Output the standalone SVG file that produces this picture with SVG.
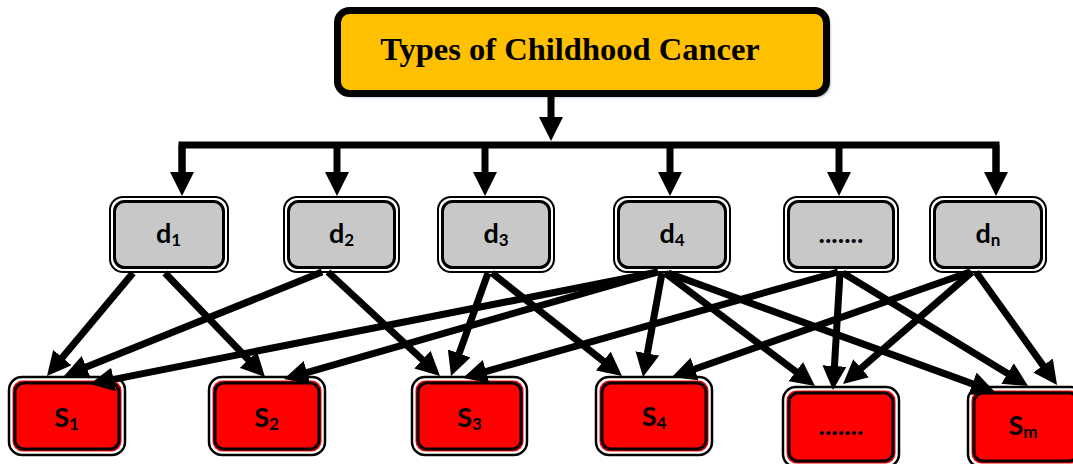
<svg xmlns="http://www.w3.org/2000/svg" width="1073" height="464" viewBox="0 0 1073 464">
<style>
.lbl{font-family:Lato,"Open Sans","Liberation Sans",sans-serif;font-weight:bold;fill:#000;text-anchor:middle}
.main{font-size:27px}
.sub{font-size:17px}
.title{font-family:"Liberation Serif","Times New Roman",serif;font-weight:bold;font-size:32.5px;fill:#000;text-anchor:middle}
.dout{fill:#fff;stroke:#000;stroke-width:2}
.din{fill:#c8c8c8;stroke:#000;stroke-width:3}
.sout{fill:#fff;stroke:#000;stroke-width:2.5}
.smid{fill:#ff0000}
.sin{fill:#ff0000;stroke:#000;stroke-width:3}
.edge{stroke:#000;stroke-width:7;fill:none;marker-end:url(#ah)}
.bar{stroke:#000;stroke-width:7;fill:none}
</style>
<defs>
<marker id="ah" markerUnits="userSpaceOnUse" markerWidth="24" markerHeight="24" refX="14" refY="12" orient="auto" viewBox="0 0 24 24">
<path d="M0,0 L24,12 L0,24 z" fill="#000"/>
</marker>
<filter id="sh" x="-5%" y="-20%" width="110%" height="140%">
<feGaussianBlur stdDeviation="1.5"/>
</filter>
</defs>
<rect width="1073" height="464" fill="#fff"/>

<g id="title">
<rect x="341" y="14" width="489" height="83" rx="13" fill="#8fa3bf" filter="url(#sh)"/>
<rect x="337.5" y="10.5" width="489" height="83" rx="12" fill="#ffc000" stroke="#000" stroke-width="7"/>
<text class="title" x="570" y="60">Types of Childhood Cancer</text>
</g>

<g id="node-d1">
<rect class="dout" x="110" y="197" width="118" height="75" rx="13"/>
<rect class="din" x="114.5" y="201.5" width="109" height="66" rx="10"/>
<text class="lbl" x="168.5" y="243"><tspan class="main">d</tspan><tspan class="sub" dy="3">1</tspan></text>
</g>
<g id="node-d2">
<rect class="dout" x="284" y="197" width="115" height="75" rx="13"/>
<rect class="din" x="288.5" y="201.5" width="106" height="66" rx="10"/>
<text class="lbl" x="341.5" y="243"><tspan class="main">d</tspan><tspan class="sub" dy="3">2</tspan></text>
</g>
<g id="node-d3">
<rect class="dout" x="438" y="197" width="116" height="75" rx="13"/>
<rect class="din" x="442.5" y="201.5" width="107" height="66" rx="10"/>
<text class="lbl" x="496" y="243"><tspan class="main">d</tspan><tspan class="sub" dy="3">3</tspan></text>
</g>
<g id="node-d4">
<rect class="dout" x="614" y="197" width="116" height="75" rx="13"/>
<rect class="din" x="618.5" y="201.5" width="107" height="66" rx="10"/>
<text class="lbl" x="672" y="243"><tspan class="main">d</tspan><tspan class="sub" dy="3">4</tspan></text>
</g>
<g id="node-ddots">
<rect class="dout" x="784" y="197" width="114" height="75" rx="13"/>
<rect class="din" x="788.5" y="201.5" width="105" height="66" rx="10"/>
<text class="lbl main" x="841" y="243">.......</text>
</g>
<g id="node-dn">
<rect class="dout" x="930" y="197" width="116" height="75" rx="13"/>
<rect class="din" x="934.5" y="201.5" width="107" height="66" rx="10"/>
<text class="lbl" x="988" y="243"><tspan class="main">d</tspan><tspan class="sub" dy="3">n</tspan></text>
</g>

<g id="node-s1">
<rect class="sout" x="9" y="377" width="116" height="78" rx="13"/>
<rect class="smid" x="12.5" y="380.5" width="109" height="71" rx="10"/>
<rect class="sin" x="15" y="383" width="104" height="66" rx="9"/>
<text class="lbl" x="66.5" y="427"><tspan class="main">S</tspan><tspan class="sub" dy="3">1</tspan></text>
</g>
<g id="node-s2">
<rect class="sout" x="209" y="377" width="116" height="78" rx="13"/>
<rect class="smid" x="212.5" y="380.5" width="109" height="71" rx="10"/>
<rect class="sin" x="215" y="383" width="104" height="66" rx="9"/>
<text class="lbl" x="266.5" y="427"><tspan class="main">S</tspan><tspan class="sub" dy="3">2</tspan></text>
</g>
<g id="node-s3">
<rect class="sout" x="412" y="377" width="115" height="78" rx="13"/>
<rect class="smid" x="415.5" y="380.5" width="108" height="71" rx="10"/>
<rect class="sin" x="418" y="383" width="103" height="66" rx="9"/>
<text class="lbl" x="469.5" y="427"><tspan class="main">S</tspan><tspan class="sub" dy="3">3</tspan></text>
</g>
<g id="node-s4">
<rect class="sout" x="596" y="377" width="116" height="78" rx="13"/>
<rect class="smid" x="599.5" y="380.5" width="109" height="71" rx="10"/>
<rect class="sin" x="602" y="383" width="104" height="66" rx="9"/>
<text class="lbl" x="654" y="426"><tspan class="main">S</tspan><tspan class="sub" dy="3">4</tspan></text>
</g>
<g id="node-sdots">
<rect class="sout" x="783" y="387" width="116" height="80" rx="13"/>
<rect class="smid" x="786.5" y="390.5" width="109" height="73" rx="10"/>
<rect class="sin" x="789" y="393" width="104" height="68" rx="9"/>
<text class="lbl main" x="841" y="435">.......</text>
</g>
<g id="node-sm">
<rect class="sout" x="968" y="387" width="116" height="80" rx="13"/>
<rect class="smid" x="971.5" y="390.5" width="109" height="73" rx="10"/>
<rect class="sin" x="974" y="393" width="104" height="68" rx="9"/>
<text class="lbl" x="1023" y="435"><tspan class="main">S</tspan><tspan class="sub" dy="3">m</tspan></text>
</g>

<g id="connectors">
<line class="edge" x1="551" y1="97" x2="551" y2="131"/>
<polyline class="bar" points="182,186 182,145 996,145 996,186"/>
<line class="edge" x1="182" y1="145" x2="182" y2="186"/>
<line class="edge" x1="337" y1="145" x2="337" y2="186"/>
<line class="edge" x1="485" y1="145" x2="485" y2="186"/>
<line class="edge" x1="670" y1="145" x2="670" y2="186"/>
<line class="edge" x1="839" y1="145" x2="839" y2="186"/>
<line class="edge" x1="996" y1="145" x2="996" y2="186"/>

<line class="edge" x1="133" y1="273" x2="53.4" y2="368.3"/>
<line class="edge" x1="165" y1="273" x2="258.1" y2="369.8"/>
<line class="edge" x1="322" y1="272" x2="73.3" y2="372.3"/>
<line class="edge" x1="328" y1="272" x2="432.7" y2="369.2"/>
<line class="edge" x1="488" y1="273" x2="454.4" y2="366.6"/>
<line class="edge" x1="492" y1="273" x2="614.2" y2="369.8"/>
<line class="edge" x1="658" y1="272" x2="99.8" y2="382.1"/>
<line class="edge" x1="658" y1="272" x2="293.6" y2="376.3"/>
<line class="edge" x1="662" y1="273" x2="644.8" y2="367.2"/>
<line class="edge" x1="665" y1="273" x2="807" y2="380"/>
<line class="edge" x1="668" y1="273" x2="985.6" y2="388.6"/>
<line class="edge" x1="838" y1="272" x2="472.6" y2="375.3"/>
<line class="edge" x1="840" y1="273" x2="833.6" y2="380"/>
<line class="edge" x1="843" y1="273" x2="1019.5" y2="380.8"/>
<line class="edge" x1="970" y1="272" x2="681.4" y2="373.7"/>
<line class="edge" x1="972" y1="272" x2="850.6" y2="377.4"/>
<line class="edge" x1="976" y1="272" x2="1051.2" y2="376.9"/>
</g>
</svg>
